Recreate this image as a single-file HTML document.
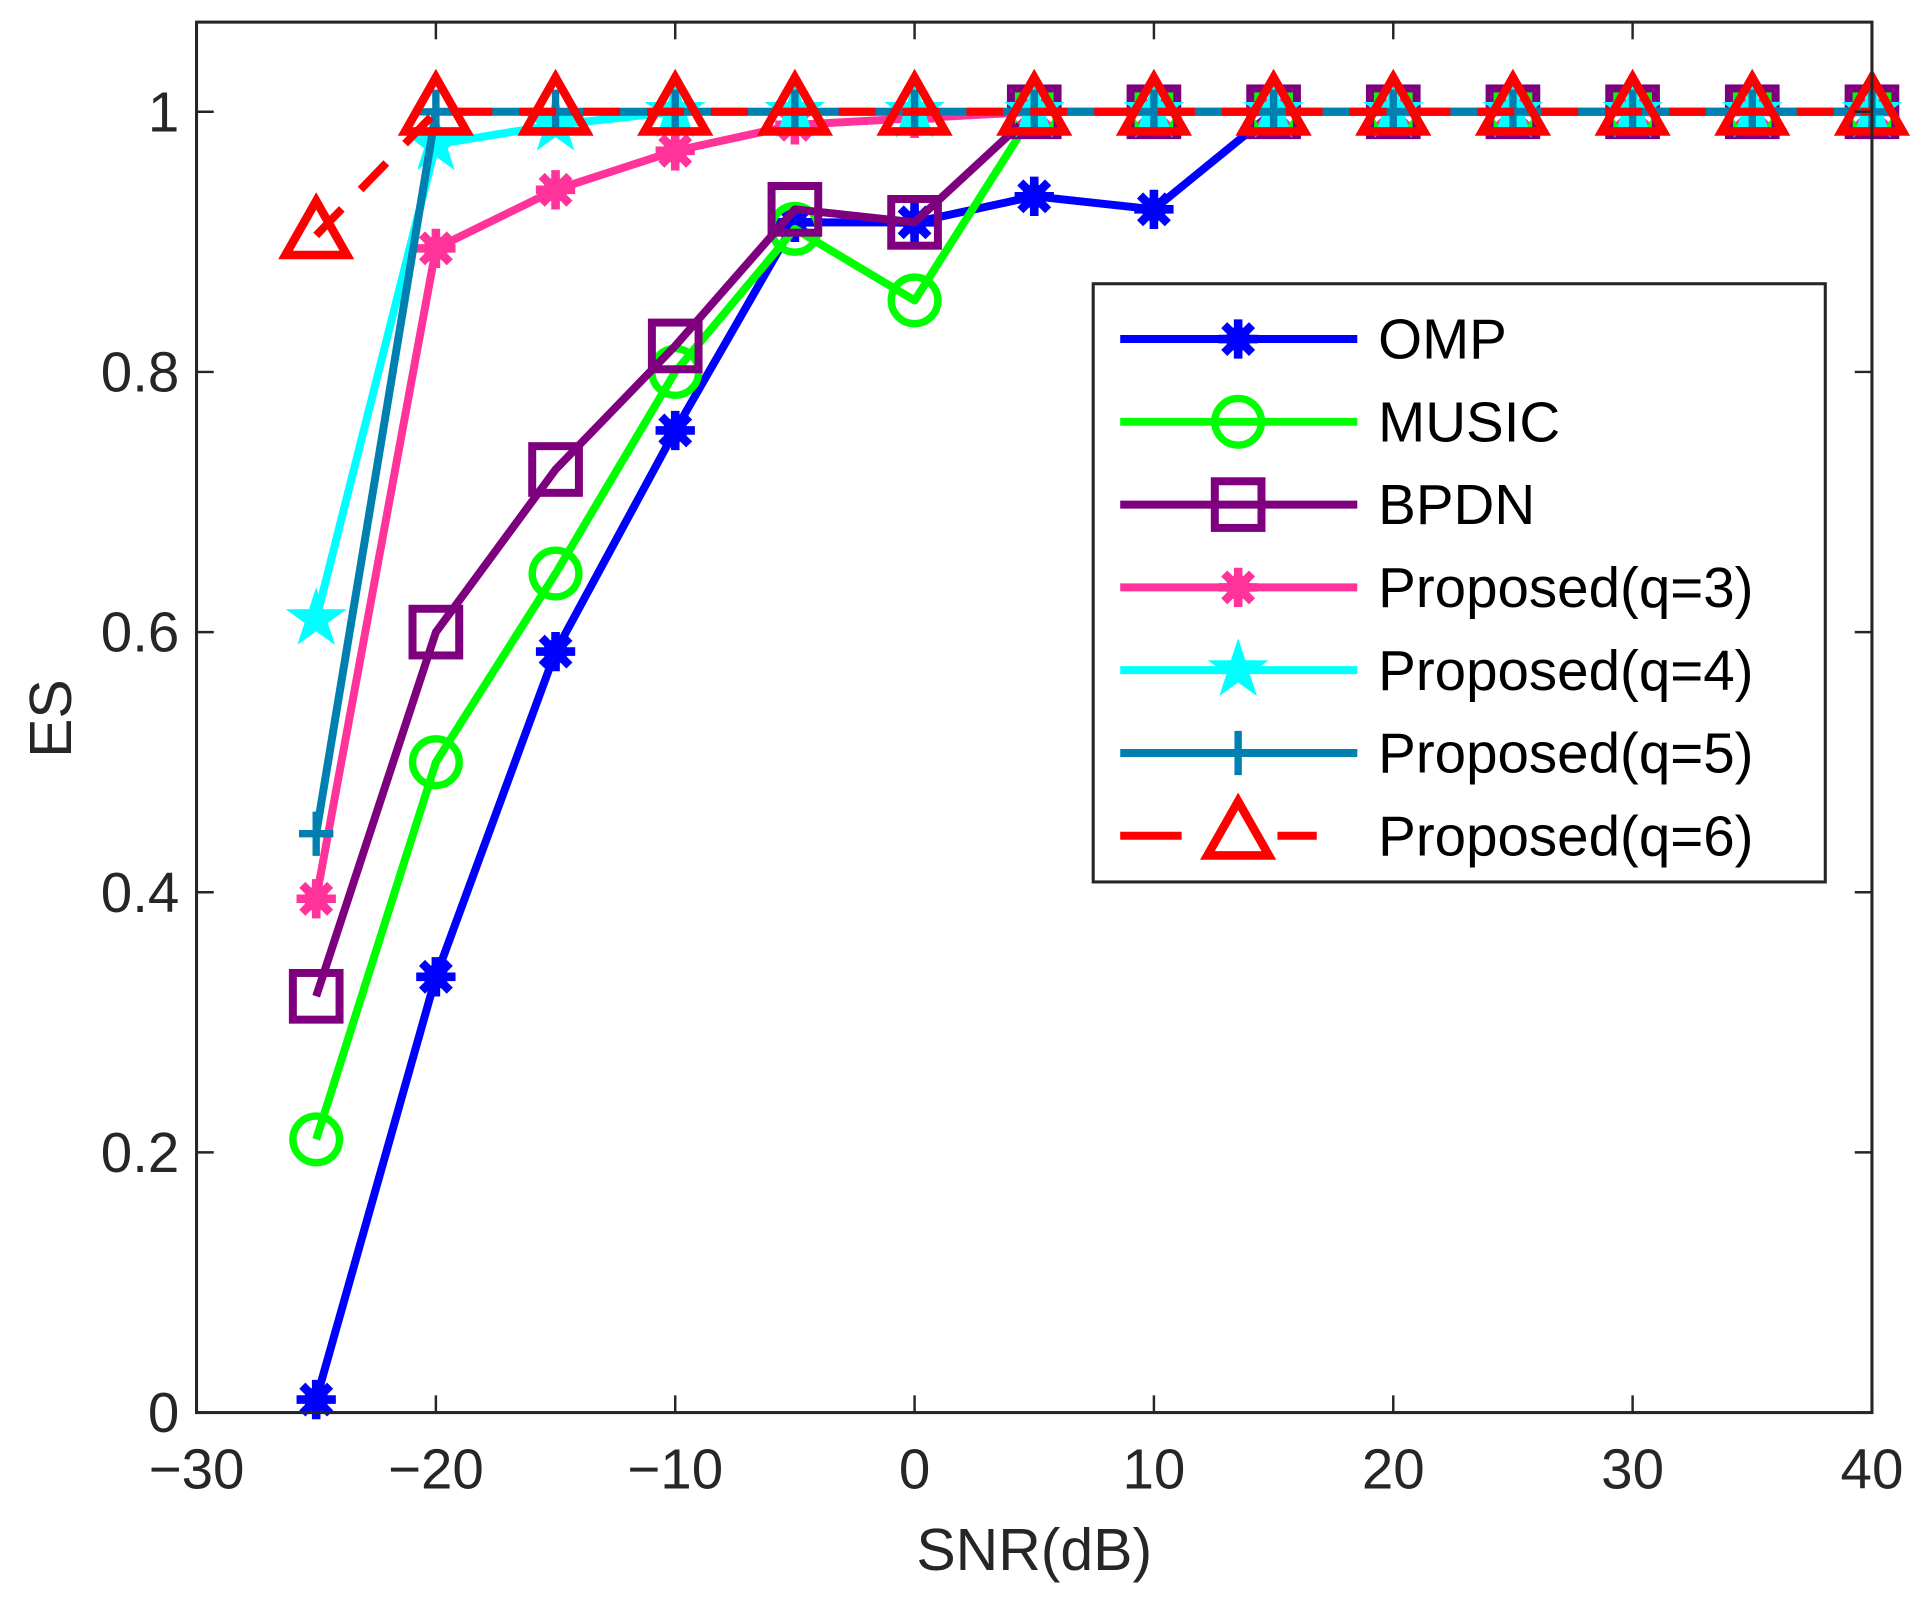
<!DOCTYPE html>
<html><head><meta charset="utf-8"><style>
html,body{margin:0;padding:0;background:#fff;}
svg{display:block;font-family:"Liberation Sans",Arial,sans-serif;}
</style></head><body>
<svg id="chart" width="1926" height="1601" viewBox="0 0 1568 1303.4" xmlns="http://www.w3.org/2000/svg"></svg>
<script>
const snr = [-25,-20,-15,-10,-5,0,5,10,15,20,25,30,35,40];
const omp = [0.01,0.335,0.585,0.755,0.915,0.915,0.935,0.925,1,1,1,1,1,1];
const music = [0.21,0.50,0.645,0.80,0.91,0.855,1,1,1,1,1,1,1,1];
const bpdn = [0.32,0.60,0.725,0.82,0.925,0.915,1,1,1,1,1,1,1,1];
const prop3 = [0.395,0.895,0.94,0.97,0.99,0.995,1,1,1,1,1,1,1,1];
const prop4 = [0.61,0.975,0.99,1,1,1,1,1,1,1,1,1,1,1];
const prop5 = [0.445,1,1,1,1,1,1,1,1,1,1,1,1,1];
const prop6 = [0.905,1,1,1,1,1,1,1,1,1,1,1,1,1];
const xTicks = [-30,-20,-10,0,10,20,30,40];
const yTicks = [0,0.2,0.4,0.6,0.8,1];
const yTickLabels = ["0","0.2","0.4","0.6","0.8","1"];
const seriesNames = ["OMP","MUSIC","BPDN","Proposed(q=3)","Proposed(q=4)","Proposed(q=5)","Proposed(q=6)"];

const L=160,R=1524,B=1150,T=18;
const X=v=>L+(v+30)/70*(R-L);
const Y=v=>B-v*(B-91);
const NS="http://www.w3.org/2000/svg";
const svg=document.getElementById('chart');
function mk(tag,attrs,parent){const e=document.createElementNS(NS,tag);for(const k in attrs)e.setAttribute(k,attrs[k]);(parent||svg).appendChild(e);return e;}

function marker(g,type,cx,cy,color){
  if(type==='ast'){
    for(let a=0;a<4;a++){const an=a*Math.PI/4;const r=16;
      mk('line',{x1:cx-r*Math.cos(an),y1:cy-r*Math.sin(an),x2:cx+r*Math.cos(an),y2:cy+r*Math.sin(an),stroke:color,'stroke-width':7},g);}
    mk('circle',{cx,cy,r:10,fill:color},g);
  } else if(type==='circ'){
    mk('circle',{cx,cy,r:19,fill:'none',stroke:color,'stroke-width':6},g);
  } else if(type==='sq'){
    mk('rect',{x:cx-19,y:cy-19,width:38,height:38,fill:'none',stroke:color,'stroke-width':6.5},g);
  } else if(type==='star'){
    let p=[];for(let i=0;i<10;i++){const r=i%2?10:26;const an=-Math.PI/2+i*Math.PI/5;p.push((cx+r*Math.cos(an)).toFixed(1)+','+(cy+r*Math.sin(an)).toFixed(1));}
    mk('polygon',{points:p.join(' '),fill:color},g);
  } else if(type==='plus'){
    mk('line',{x1:cx-14,y1:cy,x2:cx+14,y2:cy,stroke:color,'stroke-width':6},g);
    mk('line',{x1:cx,y1:cy-18,x2:cx,y2:cy+18,stroke:color,'stroke-width':6},g);
  } else if(type==='tri'){
    mk('polygon',{points:`${cx},${cy-28} ${cx-25},${cy+16} ${cx+25},${cy+16}`,fill:'none',stroke:color,'stroke-width':7},g);
  }
}

mk('rect',{x:0,y:0,width:1568,height:1303.4,fill:'#fff'});

const series=[
 {vals:omp,color:'#0000ff',m:'ast',dash:null,name:'omp'},
 {vals:music,color:'#00ff00',m:'circ',dash:null,name:'music'},
 {vals:bpdn,color:'#7e007e',m:'sq',dash:null,name:'bpdn'},
 {vals:prop3,color:'#ff3399',m:'ast',dash:null,name:'proposed-q3'},
 {vals:prop4,color:'#00ffff',m:'star',dash:null,name:'proposed-q4'},
 {vals:prop5,color:'#0080b0',m:'plus',dash:null,name:'proposed-q5'},
 {vals:prop6,color:'#ff0000',m:'tri',dash:'30,22',name:'proposed-q6'}
];
series.forEach((s,i)=>{
  const g=mk('g',{});
  
  
  const pts=snr.map((x,j)=>X(x).toFixed(1)+','+Y(s.vals[j]).toFixed(1)).join(' ');
  const a={points:pts,fill:'none',stroke:s.color,'stroke-width':6.5,'stroke-linejoin':'round'};
  if(s.dash)a['stroke-dasharray']=s.dash;
  mk('polyline',a,g);
  snr.forEach((x,j)=>marker(g,s.m,X(x),Y(s.vals[j]),s.color));
});

const ax=mk('g',{});


mk('rect',{x:L,y:T,width:R-L,height:B-T,fill:'none',stroke:'#262626','stroke-width':2.5},ax);
xTicks.forEach(v=>{
  mk('line',{x1:X(v),y1:B,x2:X(v),y2:B-14,stroke:'#262626','stroke-width':2},ax);
  mk('line',{x1:X(v),y1:T,x2:X(v),y2:T+14,stroke:'#262626','stroke-width':2},ax);
  const t=mk('text',{x:X(v),y:1212,'font-size':46,'text-anchor':'middle',fill:'#262626'},ax);
  t.textContent=(v<0?'\u2212'+(-v):''+v);
  
  
});
yTicks.forEach((v,i)=>{
  mk('line',{x1:L,y1:Y(v),x2:L+14,y2:Y(v),stroke:'#262626','stroke-width':2},ax);
  mk('line',{x1:R,y1:Y(v),x2:R-14,y2:Y(v),stroke:'#262626','stroke-width':2},ax);
  const t=mk('text',{x:146,y:Y(v)+16,'font-size':46,'text-anchor':'end',fill:'#262626'},ax);
  t.textContent=yTickLabels[i];
  
  
});
const xl=mk('text',{x:842,y:1278,'font-size':48,'text-anchor':'middle',fill:'#262626'});
xl.textContent='SNR(dB)';


const yl=mk('text',{x:58,y:585,'font-size':48,'text-anchor':'middle',fill:'#262626',transform:'rotate(-90 58 585)'});
yl.textContent='ES';



const lg=mk('g',{});


mk('rect',{x:890,y:231,width:596,height:487,fill:'#fff',stroke:'#262626','stroke-width':2.5},lg);
series.forEach((s,i)=>{
  const y=276+i*67.4;
  const e=mk('g',{},lg);
  
  
  if(s.dash){
    mk('line',{x1:912,y1:y,x2:962,y2:y,stroke:s.color,'stroke-width':6.5},e);
    mk('line',{x1:1040,y1:y,x2:1072,y2:y,stroke:s.color,'stroke-width':6.5},e);
  } else {
    mk('line',{x1:912,y1:y,x2:1105,y2:y,stroke:s.color,'stroke-width':6.5},e);
  }
  marker(e,s.m,1008,y,s.color);
  const t=mk('text',{x:1122,y:y+16,'font-size':46,fill:'#000'},e);
  t.textContent=seriesNames[i];
});
</script>
</body></html>
